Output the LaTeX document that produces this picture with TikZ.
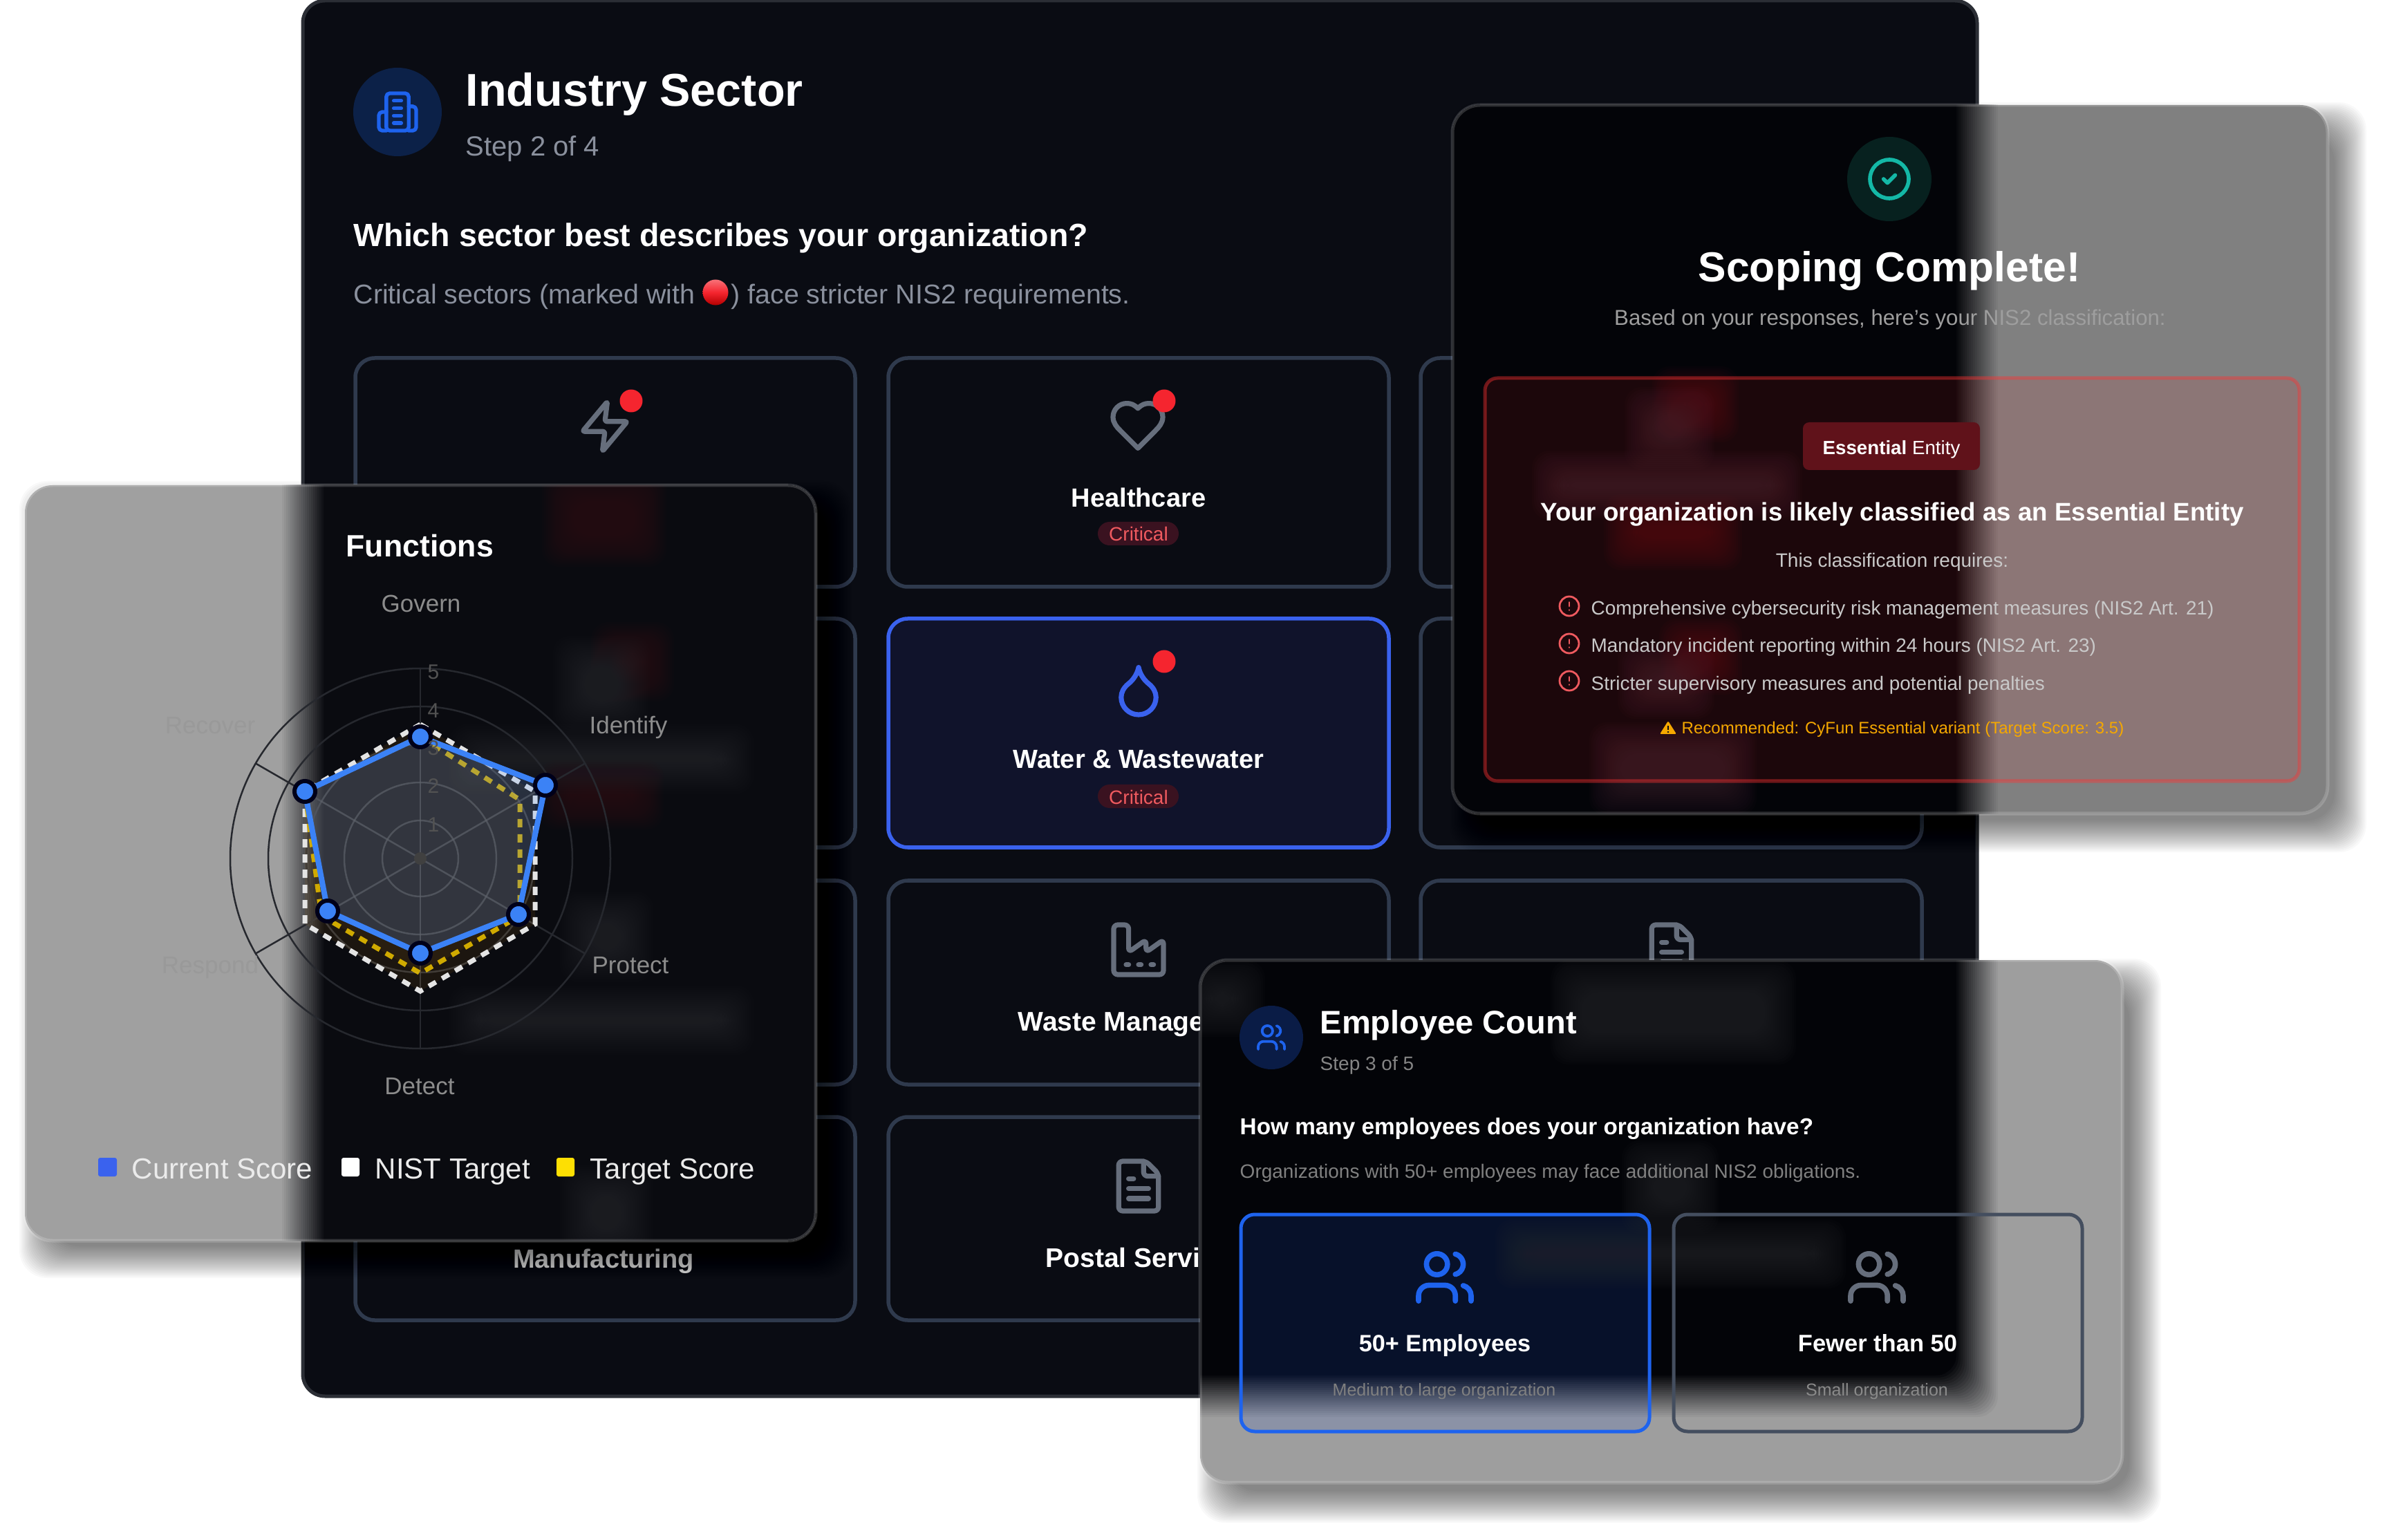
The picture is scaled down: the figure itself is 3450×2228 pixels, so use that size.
\documentclass[tikz,border=0pt]{standalone}
\usepackage{fontspec}
\setmainfont{Liberation Sans}
\definecolor{maindark}{HTML}{0A0C13}
\definecolor{mainedge}{HTML}{2B2E35}
\definecolor{cardedge}{HTML}{2F3A4D}
\definecolor{cardsel}{HTML}{10132B}
\definecolor{seledge}{HTML}{3A62EE}
\definecolor{iconcol}{HTML}{666E7C}
\definecolor{stepgray}{HTML}{8A909D}
\definecolor{dotred}{HTML}{F5252F}
\definecolor{badgered}{HTML}{3A1220}
\definecolor{critred}{HTML}{EF5A5F}
\definecolor{headblue}{HTML}{1E63EE}
\definecolor{headcirc}{HTML}{0C2148}
\definecolor{fundark}{HTML}{0A0B10}
\definecolor{fungray}{HTML}{A0A0A0}
\definecolor{scopedark}{HTML}{030408}
\definecolor{scopegray}{HTML}{808080}
\definecolor{empgray}{HTML}{9E9E9E}
\definecolor{curblue}{HTML}{3B82F6}
\definecolor{targetgold}{HTML}{D0AA00}
\definecolor{targetfill}{HTML}{D88A10}
\definecolor{niststroke}{HTML}{E4E4E4}
\definecolor{gridcol}{HTML}{26282E}
\definecolor{tealcol}{HTML}{14B8A6}
\definecolor{tealcirc}{HTML}{07211F}
\definecolor{amber}{HTML}{F5A800}
\definecolor{softwhite}{HTML}{C9C9C9}
\definecolor{empsel}{HTML}{07112A}
\definecolor{empfade}{HTML}{8B92A6}
\definecolor{empcirc}{HTML}{0A1C46}
\definecolor{blobred}{HTML}{38121A}
\definecolor{blobgray}{HTML}{2A2B2F}
\definecolor{blobdeep}{HTML}{50121A}
\definecolor{blobplum}{HTML}{3C2430}
\definecolor{essred}{HTML}{60121A}
\newcommand{\fs}[1]{\pgfmathsetmacro\tmpsz{#1*0.2845}\fontsize{\tmpsz pt}{\tmpsz pt}\selectfont}
\def\frostrect(#1,#2,#3,#4)#5#6{\foreach \i in {0,...,20}{\pgfmathsetmacro\ofs{30-3*\i}\pgfmathsetmacro\mixp{100*(\i+1)/21}\fill[#5!\mixp!#6, rounded corners=0.3cm] ({#1-\ofs},{#2-\ofs}) rectangle ({#3+\ofs},{#4+\ofs});}}
\def\blob(#1,#2,#3,#4)#5{\foreach \i in {0,...,15}{\pgfmathsetmacro\ofs{30-3*\i}\fill[#5, fill opacity=0.06, rounded corners=0.25cm] ({#1-\ofs},{#2-\ofs}) rectangle ({#3+\ofs},{#4+\ofs});}}
\def\softshadow(#1,#2,#3,#4){\foreach \i in {0,...,23}{\pgfmathsetmacro\ofs{30-2*\i}\fill[black, fill opacity=0.024, rounded corners=0.4cm] ({#1-\ofs},{#2-\ofs}) rectangle ({#3+\ofs},{#4+\ofs});}}
\def\drawicon(#1,#2)(#3)#4#5{\begin{scope}[shift={(#1,#2)},x=#3*0.01cm,y=-#3*0.01cm,shift={(-12,-12)},color=#4,line width=#3*0.02cm,line cap=round,line join=round]#5\end{scope}}
\def\iconzap{\draw[rounded corners=0.03cm] (13,2) -- (3,14) -- (12,14) -- (11,22) -- (21,10) -- (12,10) -- cycle;}
\def\iconheart{\draw (19,14) .. controls (20.49,12.54) and (22,10.79) .. (22,8.5) arc (0:-90:5.5) .. controls (14.74,3) and (13.5,3.5) .. (12,5) .. controls (10.5,3.5) and (9.26,3) .. (7.5,3) arc (-90:-180:5.5) .. controls (2,10.8) and (3.5,12.55) .. (5,14) -- (12,21) -- cycle;}
\def\icondrop{\draw (12,22) arc (90:0:7) .. controls (19,13) and (18,11.1) .. (16,9.5) .. controls (14,7.9) and (12.5,5.5) .. (12,3) .. controls (11.5,5.5) and (10,7.9) .. (8,9.5) .. controls (6,11.1) and (5,13) .. (5,15) arc (180:90:7) -- cycle;}
\def\iconfactory{\draw[rounded corners=0.06cm] (2,22) -- (22,22) -- (22,8) -- (15,13) -- (15,8) -- (8,13) -- (8,2) -- (2,2) -- cycle; \draw (7,18) -- (8,18); \draw (12,18) -- (13,18); \draw (17,18) -- (18,18);}
\def\iconfile{\draw[rounded corners=0.06cm] (15,2) -- (4,2) -- (4,22) -- (20,22) -- (20,7) -- cycle; \draw[rounded corners=0.06cm] (14,2) -- (14,8) -- (20,8); \draw (8,9) -- (10,9); \draw (8,13) -- (16,13); \draw (8,17) -- (16,17);}
\def\iconbuilding{\draw[rounded corners=0.05cm] (6,22) -- (6,2) -- (18,2) -- (18,22) -- cycle; \draw[rounded corners=0.05cm] (6,12) -- (2,12) -- (2,22) -- (6,22); \draw[rounded corners=0.05cm] (18,9) -- (22,9) -- (22,22) -- (18,22); \draw (10,6) -- (14,6); \draw (10,10) -- (14,10); \draw (10,14) -- (14,14); \draw (10,18) -- (14,18);}
\def\iconusers{\draw (16,21) -- (16,19) arc (0:-90:4) -- (6,15) arc (-90:-180:4) -- (2,21); \draw (9,7) circle (4); \draw (22,21) -- (22,19) arc (0:-75.5:4); \draw (16,3.13) arc (-75.5:75.5:4);}
\def\iconcheck{\draw (12,12) circle (10); \draw (9,12) -- (11,14) -- (15,10);}
\def\iconalert{\draw (12,12) circle (10); \draw (12,8) -- (12,12); \draw (12,16) -- (12,16.01);}
\tikzset{
	txtw/.style={anchor=base west, inner sep=0pt, yshift=-0.01cm},
	txtc/.style={anchor=base, inner sep=0pt, yshift=-0.01cm},
	sectorcard/.style={draw=cardedge, line width=0.055cm, rounded corners=0.28cm},
	pillbadge/.style={fill=badgered, rounded corners=0.17cm},
	panelrim/.style={draw=white, draw opacity=0.17, line width=0.05cm, rounded corners=0.4cm},
	radardot/.style={circle, fill=curblue, draw=black!90!blue, line width=0.06cm, inner sep=0pt, minimum size=0.3cm},
	legendbox/.style={rounded corners=0.03cm},
}

\begin{document}
\begin{tikzpicture}[x=0.01cm, y=-0.01cm]
		%%%%% START %%%%%
		\useasboundingbox (0, 0) rectangle (3450, 2228);
		\fill[white] (0, 0) rectangle (3450, 2228);

		\fill[maindark, rounded corners=0.32cm] (438, 1) rectangle (2860, 2020);
		\draw[mainedge, line width=0.05cm, rounded corners=0.32cm] (438, 1) rectangle (2860, 2020);

		\fill[headcirc] (575, 162) circle (64);
		\drawicon(575,162)(2.7){headblue}{\iconbuilding}
		\node[txtw, font=\fs{66.5}\bfseries, text=white] (sectortitle) at (673, 153) {Industry Sector};
		\node[txtw, font=\fs{40}, text=stepgray] (sectorstep) at (673, 225) {Step 2 of 4};
		\node[txtw, font=\fs{46.5}\bfseries, text=white] (sectorquestion) at (511, 356) {Which sector best describes your organization?};
		\node[txtw, font=\fs{39.3}, text=stepgray] (sectorhinta) at (511, 439) {Critical sectors (marked with};
		\node[circle, inner sep=0pt, minimum size=0.37cm, top color=dotred!65!white, bottom color=red!70!black, middle color=dotred] (hintball) at (1035, 423) {};
		\node[txtw, font=\fs{39.3}, text=stepgray] (sectorhintb) at (1057, 439) {) face stricter NIS2 requirements.};

		\draw[sectorcard] (514, 518) rectangle (1237, 849);
		\draw[sectorcard] (1285, 518) rectangle (2009, 849);
		\draw[sectorcard] (2055, 518) rectangle (2780, 849);
		\draw[sectorcard] (514, 895) rectangle (1237, 1226);
		\draw[sectorcard, fill=cardsel, draw=seledge] (1285, 895) rectangle (2009, 1226);
		\draw[sectorcard] (2055, 895) rectangle (2780, 1226);
		\draw[sectorcard] (514, 1274) rectangle (1237, 1569);
		\draw[sectorcard] (1285, 1274) rectangle (2009, 1569);
		\draw[sectorcard] (2055, 1274) rectangle (2780, 1569);
		\draw[sectorcard] (514, 1616) rectangle (1237, 1910);
		\draw[sectorcard] (1285, 1616) rectangle (2009, 1910);

		\drawicon(875,617)(3.6){iconcol}{\iconzap}
		\fill[dotred] (913, 580) circle (16.5);
		\drawicon(1646,616)(3.6){iconcol}{\iconheart}
		\fill[dotred] (1684, 580) circle (16.5);
		\node[txtc, font=\fs{38}\bfseries, text=white] (healthlabel) at (1647, 733) {Healthcare};
		\fill[pillbadge] (1588, 755) rectangle (1705, 789);
		\node[txtc, font=\fs{28}, text=critred] (healthcrit) at (1647, 782) {Critical};

		\drawicon(1647,998)(3.6){seledge}{\icondrop}
		\fill[dotred] (1684, 957) circle (16.5);
		\node[txtc, font=\fs{38}\bfseries, text=white] (waterlabel) at (1647, 1111) {Water \& Wastewater};
		\fill[pillbadge] (1588, 1135) rectangle (1705, 1169);
		\node[txtc, font=\fs{28}, text=critred] (watercrit) at (1647, 1162) {Critical};

		\drawicon(1647,1374)(3.6){iconcol}{\iconfactory}
		\node[txtw, font=\fs{39}\bfseries, text=white] (wastelabel) at (1472, 1490) {Waste Manage};
		\drawicon(2418,1374)(3.6){iconcol}{\iconfile}
		\drawicon(1647,1716)(3.6){iconcol}{\iconfile}
		\node[txtw, font=\fs{39}\bfseries, text=white] (postallabel) at (1512, 1832) {Postal Servic};
		\node[txtc, font=\fs{38}\bfseries, text=white!85!black] (manulabel) at (873, 1833) {Manufacturing};

		%%%%% functions panel %%%%%
		\begin{scope}[shift={(22, 24)}]
			\softshadow(36,702,1180,1795)
		\end{scope}
		\begin{scope}
			\clip[rounded corners=0.4cm] (36, 702) rectangle (1180, 1795);
			\fill[fungray] (0, 680) rectangle (1200, 1820);
			\frostrect(438,0,2860,2020){fundark}{fungray}
			\blob(814,710,934,790){blobred}
			\blob(885,930,945,985){blobred}
			\blob(830,950,910,1030){blobgray}
			\blob(680,1078,1060,1118){blobgray}
			\blob(810,1130,930,1170){blobred}
			\blob(840,1320,915,1390){blobgray}
			\blob(680,1456,1060,1496){blobgray}
			\blob(840,1715,915,1795){blobgray}
		\end{scope}
		\draw[panelrim] (36, 702) rectangle (1180, 1795);

		\node[txtw, font=\fs{44.6}\bfseries, text=white] (funtitle) at (500, 805) {Functions};

		\coordinate (radarc) at (608, 1242);
		\foreach \r in {55,110,165,220,275}
			\draw[gridcol, line width=0.025cm] (radarc) circle (\r);
		\foreach \a in {30,90,150,210,270,330}
			\draw[gridcol, line width=0.025cm] (radarc) -- ++(\a:275);

		\coordinate (curA) at (608, 1066);
		\coordinate (curB) at (789, 1136);
		\coordinate (curC) at (750, 1323);
		\coordinate (curD) at (608, 1379);
		\coordinate (curE) at (474, 1318);
		\coordinate (curF) at (441, 1145);
		\coordinate (nistA) at (608, 1048);
		\coordinate (nistB) at (774, 1145);
		\coordinate (nistC) at (774, 1337);
		\coordinate (nistD) at (608, 1434);
		\coordinate (nistE) at (441, 1337);
		\coordinate (tarA) at (608, 1066);
		\coordinate (tarB) at (752, 1157);
		\coordinate (tarC) at (752, 1325);
		\coordinate (tarD) at (608, 1408);
		\coordinate (tarE) at (465, 1325);

		\fill[targetfill, fill opacity=0.09] (nistA) -- (nistB) -- (nistC) -- (nistD) -- (nistE) -- (curF) -- cycle;
		\draw[niststroke, line width=0.07cm, dash pattern=on 0.12cm off 0.1cm] (nistA) -- (nistB) -- (nistC) -- (nistD) -- (nistE) -- (curF) -- cycle;
		\fill[targetfill, fill opacity=0.07] (tarA) -- (tarB) -- (tarC) -- (tarD) -- (tarE) -- (curF) -- cycle;
		\draw[targetgold, line width=0.07cm, dash pattern=on 0.12cm off 0.1cm] (tarA) -- (tarB) -- (tarC) -- (tarD) -- (tarE) -- (curF) -- cycle;
		\fill[curblue!85!white, fill opacity=0.2] (curA) -- (curB) -- (curC) -- (curD) -- (curE) -- (curF) -- cycle;
		\begin{scope}
			\clip (nistA) -- (nistB) -- (nistC) -- (nistD) -- (nistE) -- (curF) -- cycle;
			\foreach \r in {55,110,165,220,275}
				\draw[white, draw opacity=0.06, line width=0.025cm] (radarc) circle (\r);
			\foreach \a in {30,90,150,210,270,330}
				\draw[white, draw opacity=0.06, line width=0.025cm] (radarc) -- ++(\a:275);
		\end{scope}
		\draw[curblue, line width=0.08cm] (curA) -- (curB) -- (curC) -- (curD) -- (curE) -- (curF) -- cycle;
		\fill[black!75!white] (radarc) circle (9);
		\node[radardot] (dotA) at (curA) {};
		\node[radardot] (dotB) at (curB) {};
		\node[radardot] (dotC) at (curC) {};
		\node[radardot] (dotD) at (curD) {};
		\node[radardot] (dotE) at (curE) {};
		\node[radardot] (dotF) at (curF) {};

		\node[txtc, font=\fs{30}, text=white!32!black] (tickfive) at (627, 982) {5};
		\node[txtc, font=\fs{30}, text=white!32!black] (tickfour) at (627, 1037) {4};
		\node[txtc, font=\fs{30}, text=white!32!black] (tickthree) at (627, 1092) {3};
		\node[txtc, font=\fs{30}, text=white!32!black] (ticktwo) at (627, 1147) {2};
		\node[txtc, font=\fs{30}, text=white!32!black] (tickone) at (627, 1202) {1};

		\node[txtc, font=\fs{35}, text=white!55!black] (axisgovern) at (609, 885) {Govern};
		\node[txtc, font=\fs{35}, text=white!55!black] (axisidentify) at (909, 1060) {Identify};
		\node[txtc, font=\fs{35}, text=white!55!black] (axisprotect) at (912, 1407) {Protect};
		\node[txtc, font=\fs{35}, text=white!55!black] (axisdetect) at (607, 1582) {Detect};
		\node[txtc, font=\fs{35}, text=white!60!black] (axisrecover) at (304, 1060) {Recover};
		\node[txtc, font=\fs{35}, text=white!60!black] (axisrespond) at (304, 1407) {Respond};

		\fill[legendbox, seledge] (142, 1675) rectangle (169, 1702);
		\node[txtw, font=\fs{42}, text=white!92!black] (legendcur) at (190, 1704) {Current Score};
		\fill[legendbox, white] (494, 1675) rectangle (520, 1702);
		\node[txtw, font=\fs{42}, text=white!92!black] (legendnist) at (542, 1704) {NIST Target};
		\fill[legendbox, yellow!82!orange] (805, 1675) rectangle (831, 1702);
		\node[txtw, font=\fs{42}, text=white!92!black] (legendtar) at (853, 1704) {Target Score};

		%%%%% scoping panel %%%%%
		\begin{scope}[shift={(26, 26)}]
			\softshadow(2101,152,3367,1177)
		\end{scope}
		\begin{scope}
			\clip[rounded corners=0.4cm] (2101, 152) rectangle (3367, 1177);
			\fill[scopegray] (2080, 130) rectangle (3400, 1200);
			\frostrect(438,0,2860,2020){scopedark}{scopegray}
			\blob(2420,560,2485,610){blobdeep}
			\blob(2380,590,2450,650){blobplum}
			\blob(2246,682,2577,722){blobplum}
			\blob(2350,745,2490,795){blobdeep}
			\blob(2430,925,2490,975){blobdeep}
			\blob(2370,960,2450,1010){blobplum}
			\blob(2329,1075,2511,1150){blobplum}
			\fill[red!85!white, fill opacity=0.1, rounded corners=0.18cm] (2148, 547) rectangle (3326, 1130);
		\end{scope}
		\draw[red!80!white, draw opacity=0.42, line width=0.05cm, rounded corners=0.18cm] (2148, 547) rectangle (3326, 1130);
		\draw[panelrim] (2101, 152) rectangle (3367, 1177);

		\fill[tealcirc] (2733, 259) circle (61);
		\drawicon(2733,259)(2.8){tealcol}{\iconcheck}
		\node[txtc, font=\fs{60.6}\bfseries, text=white] (scopetitle) at (2733, 407) {Scoping Complete!};
		\node[txtc, font=\fs{31.2}, text=white!62!black] (scopesub) at (2734, 470) {Based on your responses, here's your NIS2 classification:};

		\fill[essred, rounded corners=0.09cm] (2608, 611) rectangle (2864, 680);
		\node[txtc, font=\fs{27.7}, text=white] (entitybadge) at (2736, 657) {\textbf{Essential} Entity};
		\node[txtc, font=\fs{36.7}\bfseries, text=white] (entityhead) at (2737, 753) {Your organization is likely classified as an Essential Entity};
		\node[txtc, font=\fs{28}, text=softwhite] (entityreq) at (2737, 820) {This classification requires:};

		\drawicon(2270,877)(1.4){critred}{\iconalert}
		\node[txtw, font=\fs{27.9}, text=softwhite] (reqone) at (2301, 889) {Comprehensive cybersecurity risk management measures (NIS2 Art. 21)};
		\drawicon(2270,931)(1.4){critred}{\iconalert}
		\node[txtw, font=\fs{27.9}, text=softwhite] (reqtwo) at (2301, 943) {Mandatory incident reporting within 24 hours (NIS2 Art. 23)};
		\drawicon(2270,985)(1.4){critred}{\iconalert}
		\node[txtw, font=\fs{27.9}, text=softwhite] (reqthree) at (2301, 998) {Stricter supervisory measures and potential penalties};

		\fill[amber, rounded corners=0.015cm] (2413, 1043) -- (2425, 1062) -- (2401, 1062) -- cycle;
		\draw[maindark, line width=0.025cm] (2413, 1050) -- (2413, 1056);
		\fill[maindark] (2413, 1059) circle (1.3);
		\node[txtw, font=\fs{24}, text=amber] (reclabel) at (2432, 1061) {Recommended: CyFun Essential variant (Target Score: 3.5)};

		%%%%% employee panel %%%%%
		\begin{scope}[shift={(26, 28)}]
			\softshadow(1736,1389,3070,2145)
		\end{scope}
		\begin{scope}
			\clip[rounded corners=0.4cm] (1736, 1389) rectangle (3070, 2145);
			\fill[empgray] (1720, 1370) rectangle (3100, 2170);
			\frostrect(438,0,2860,2020){scopedark}{empgray}
			\begin{scope}
				\clip[rounded corners=0.2cm] (1795, 1757) rectangle (2386, 2071);
				\fill[empfade] (1790, 1750) rectangle (2390, 2080);
				\frostrect(438,0,2860,2020){empsel}{empfade}
			\end{scope}
			\blob(2273,1420,2568,1510){blobgray}
			\blob(2376,1680,2456,1755){blobgray}
			\blob(2193,1794,2640,1834){blobgray}
			\blob(1736,1420,1800,1470){blobgray}
		\end{scope}
		\draw[panelrim] (1736, 1389) rectangle (3070, 2145);

		\fill[empcirc] (1839, 1501) circle (46);
		\drawicon(1839,1501)(1.9){headblue}{\iconusers}
		\node[txtw, font=\fs{47}\bfseries, text=white] (emptitle) at (1909, 1494) {Employee Count};
		\node[txtw, font=\fs{28}, text=white!52!black] (empstep) at (1909, 1547) {Step 3 of 5};
		\node[txtw, font=\fs{33.3}\bfseries, text=white] (empquestion) at (1793, 1640) {How many employees does your organization have?};
		\node[txtw, font=\fs{28}, text=white!50!black] (emphint) at (1793, 1703) {Organizations with 50+ employees may face additional NIS2 obligations.};

		\draw[headblue, line width=0.05cm, rounded corners=0.2cm] (1795, 1757) rectangle (2386, 2071);
		\draw[cardedge!90!white, line width=0.05cm, rounded corners=0.2cm] (2421, 1757) rectangle (3012, 2071);
		\drawicon(2090,1848)(3.8){headblue}{\iconusers}
		\drawicon(2715,1848)(3.8){iconcol}{\iconusers}
		\node[txtc, font=\fs{34.2}\bfseries, text=white] (biglabel) at (2090, 1954) {50+ Employees};
		\node[txtc, font=\fs{25}, text=white!50!black] (bigsub) at (2089, 2018) {Medium to large organization};
		\node[txtc, font=\fs{34.5}\bfseries, text=white] (smalllabel) at (2716, 1954) {Fewer than 50};
		\node[txtc, font=\fs{25}, text=white!54!black] (smallsub) at (2715, 2018) {Small organization};

		%%%%% END %%%%%
\end{tikzpicture}
\end{document}
